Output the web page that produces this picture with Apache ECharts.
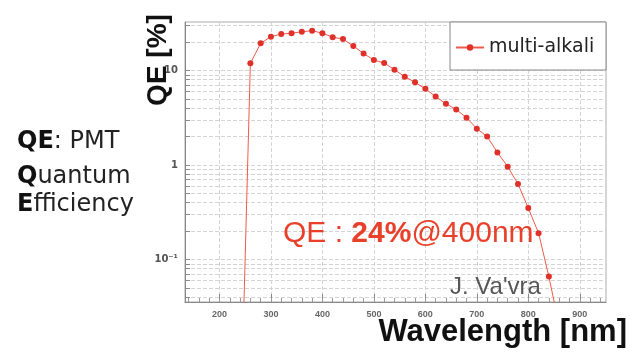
<!DOCTYPE html>
<html>
<head>
<meta charset="utf-8">
<script src="https://cdn.jsdelivr.net/npm/echarts@6/dist/echarts.min.js"></script>
<style>
html,body{margin:0;padding:0;background:#fff;}
#c{width:630px;height:361px;}
</style>
</head>
<body>
<div id="c"></div>
<script>
// ---- data ----
const wavelengths = [240, 260, 280, 300, 320, 340, 360, 380, 400, 420, 440, 460, 480, 500, 520, 540,
                     560, 580, 600, 620, 640, 660, 680, 700, 720, 740, 760, 780, 800, 820, 840, 860];
const qeValues = [0.001, 11.9, 19.4, 22.8, 24.3, 24.8, 25.7, 26.4, 24.8, 22.5, 21.5, 18.2, 15.1, 12.9, 12.0, 10.2,
                  8.6, 7.5, 6.4, 5.3, 4.45, 3.87, 3.17, 2.42, 2.0, 1.36, 0.96, 0.63, 0.35, 0.19, 0.066, 0.02];
const seriesName = 'multi-alkali';
const xTickLabels = [200, 300, 400, 500, 600, 700, 800, 900];
const xMinorTicks = [140,160,180,200,220,240,260,280,300,320,340,360,380,400,420,440,460,480,500,520,540,
                     560,580,600,620,640,660,680,700,720,740,760,780,800,820,840,860,880,900,920,940];
const yLabelValues = [0.1, 1, 10];
const yGridValues = [0.04,0.05,0.06,0.07,0.08,0.09,0.1,0.2,0.3,0.4,0.5,0.6,0.7,0.8,0.9,1,
                     2,3,4,5,6,7,8,9,10,20,30];

const RED = '#e8402a';
const chart = echarts.init(document.getElementById('c'), null, {renderer: 'canvas'});

const option = {
  animation: false,
  backgroundColor: '#fff',
  grid: {left: 185, top: 22, right: 24, bottom: 59, show: true, borderColor: '#aaa', borderWidth: 1, backgroundColor: 'transparent'},
  legend: {
    left: 455, top: 38, padding: 0, itemWidth: 28, itemHeight: 8,
    data: [seriesName],
    textStyle: {fontFamily: 'DejaVu Sans', fontSize: 19, color: '#222'},
    z: 10
  },
  xAxis: [{
    type: 'value', min: 133, max: 951,
    axisLine: {show: true, lineStyle: {color: '#888'}},
    axisTick: {show: true, inside: true, length: 8, customValues: xTickLabels, lineStyle: {color: '#888'}},
    axisLabel: {customValues: xTickLabels, margin: 8, fontSize: 9, fontWeight: 'bold', color: '#666', fontFamily: 'Liberation Sans'},
    splitLine: {show: true, lineStyle: {color: '#d4d4d4', type: 'dashed'}}
  }, {
    type: 'value', min: 133, max: 951, position: 'bottom',
    axisLine: {show: false},
    axisTick: {show: true, inside: true, length: 4, customValues: xMinorTicks, lineStyle: {color: '#999'}},
    axisLabel: {show: false},
    splitLine: {show: false}
  }],
  yAxis: {
    type: 'log', min: 0.0355, max: 32.6, logBase: 10,
    axisLine: {show: true, lineStyle: {color: '#888'}},
    axisTick: {show: true, inside: true, length: 5, customValues: yGridValues, lineStyle: {color: '#888'}},
    axisLabel: {
      customValues: yLabelValues, margin: 7, fontSize: 10, fontWeight: 'bold', color: '#555', fontFamily: 'DejaVu Sans',
      formatter: function (v) { return v < 0.5 ? '10\u207B\u00B9' : (v > 5 ? '10' : '1'); }
    },
    splitLine: {show: true, lineStyle: {color: '#d4d4d4', type: 'dashed'}},
    minorTick: {show: false}
  },
  series: [{
    name: seriesName, type: 'line',
    data: wavelengths.map((w, i) => [w, qeValues[i]]),
    symbol: 'circle', symbolSize: 6,
    lineStyle: {color: '#f05a4a', width: 1},
    itemStyle: {color: '#e0302a'},
    clip: true, z: 2
  }],
  graphic: [
    {type: 'rect', z: 5, shape: {x: 450, y: 22, width: 156, height: 48}, style: {fill: '#fff', stroke: '#888', lineWidth: 1}},
    {type: 'text', z: 20, x: 158, y: 60, rotation: Math.PI / 2,
      style: {text: 'QE [%]', fontFamily: 'Liberation Sans', fontWeight: 'bold', fontSize: 28, fill: '#111', textAlign: 'center', textVerticalAlign: 'middle'}},
    {type: 'text', z: 20, x: 627, y: 348,
      style: {text: 'Wavelength [nm]', fontFamily: 'Liberation Sans', fontWeight: 'bold', fontSize: 31, fill: '#111', textAlign: 'right', textVerticalAlign: 'bottom'}},
    {type: 'text', z: 20, x: 17, y: 154,
      style: {text: '{b|QE}: PMT', textVerticalAlign: 'bottom', fontFamily: 'DejaVu Sans', fontSize: 24, fill: '#222',
        rich: {b: {fontFamily: 'DejaVu Sans', fontWeight: 'bold', fontSize: 24, fill: '#111'}}}},
    {type: 'text', z: 20, x: 17, y: 189,
      style: {text: '{b|Q}uantum', textVerticalAlign: 'bottom', fontFamily: 'DejaVu Sans', fontSize: 24, fill: '#222',
        rich: {b: {fontFamily: 'DejaVu Sans', fontWeight: 'bold', fontSize: 24, fill: '#111'}}}},
    {type: 'text', z: 20, x: 17, y: 217,
      style: {text: '{b|E}fficiency', textVerticalAlign: 'bottom', fontFamily: 'DejaVu Sans', fontSize: 24, fill: '#222',
        rich: {b: {fontFamily: 'DejaVu Sans', fontWeight: 'bold', fontSize: 24, fill: '#111'}}}},
    {type: 'text', z: 20, x: 283, y: 249,
      style: {text: 'QE : {b|24%}@400nm', textVerticalAlign: 'bottom', fontFamily: 'Liberation Sans', fontSize: 30, fill: RED,
        rich: {b: {fontFamily: 'Liberation Sans', fontWeight: 'bold', fontSize: 30, fill: RED}}}},
    {type: 'text', z: 20, x: 450, y: 299,
      style: {text: "J. Va'vra", textVerticalAlign: 'bottom', fontFamily: 'Liberation Sans', fontSize: 24, fill: '#555'}}
  ]
};
chart.setOption(option);
</script>
</body>
</html>
